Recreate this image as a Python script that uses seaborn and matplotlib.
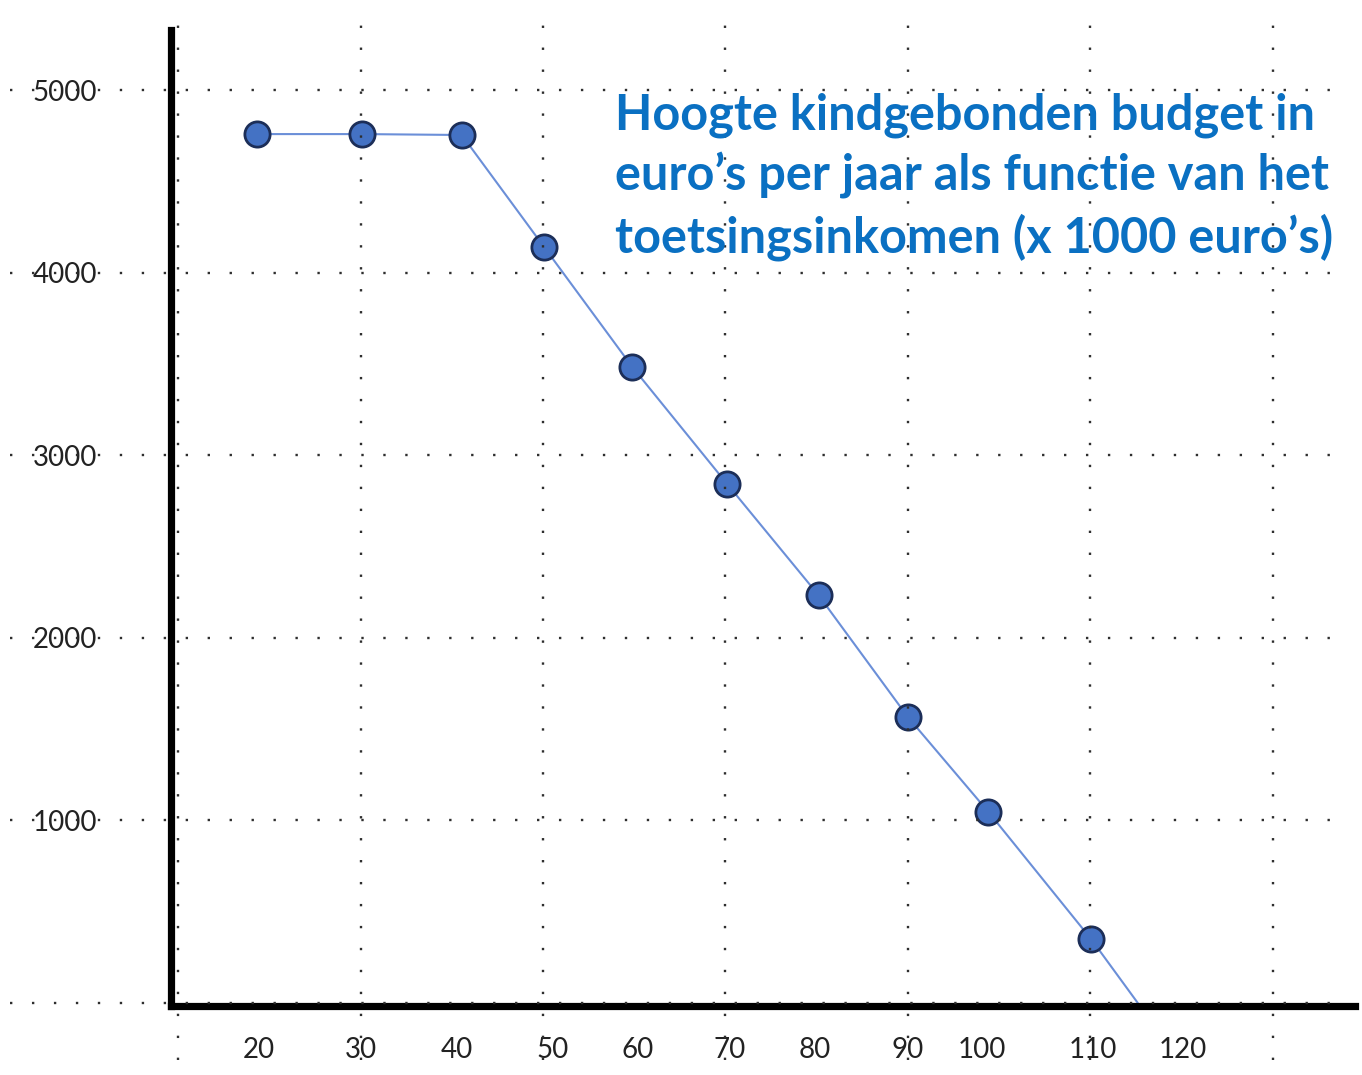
import numpy as np
import pandas as pd
import matplotlib
matplotlib.use("Agg")
import matplotlib.pyplot as plt
import seaborn as sns

# ============ Data ============
# toetsingsinkomen (x 1000 euro) and kindgebonden budget (euro per jaar)
inkomen = [18.7, 30.2, 41.1, 50.1, 59.8, 70.2, 80.2, 90.0, 98.8, 110.1]
budget = [4759, 4759, 4754, 4142, 3483, 2842, 2234, 1566, 1048, 349]
# the line runs on to the x axis
eind_inkomen = 115.2
eind_budget = 0

# labels as they sit under the axis (slightly irregular in the original)
xtick_pos = [18.8, 30.0, 40.6, 51.0, 60.4, 70.5, 79.8, 90.0, 98.1, 110.3, 120.1]
xtick_lab = ["20", "30", "40", "50", "60", "70", "80", "90", "100", "110", "120"]
ytick_pos = [1000, 2000, 3000, 4000, 5000]
ytick_lab = ["1000", "2000", "3000", "4000", "5000"]

grid_x = [10, 30, 50, 70, 90, 110, 130]
grid_y = [0, 1000, 2000, 3000, 4000, 5000]

TITLE = ("Hoogte kindgebonden budget in\n"
         "euro\u2019s per jaar als functie van het\n"
         "toetsingsinkomen (x 1000 euro\u2019s)")

# ============ Style ============
sns.set_style("white")
plt.rcParams['font.family'] = ['Lato', 'DejaVu Sans']

LINE_COL = "#6B8FD8"
DOT_FILL = "#4472C4"
DOT_EDGE = "#1C2E58"
TITLE_COL = "#0A70C2"
GRID_COL = "#2E2E2E"

W, H = 1362, 1075
fig = plt.figure(figsize=(W / 100, H / 100), dpi=100)
ax = fig.add_axes([171 / W, (H - 1006) / H, (1355 - 171) / W, (1006 - 30) / H])

df = pd.DataFrame({"inkomen": inkomen, "budget": budget})
df_line = pd.concat([df, pd.DataFrame({"inkomen": [eind_inkomen], "budget": [eind_budget]})],
                    ignore_index=True)

sns.lineplot(data=df_line, x="inkomen", y="budget", ax=ax, color=LINE_COL,
             linewidth=1.5, zorder=3)
sns.scatterplot(data=df, x="inkomen", y="budget", ax=ax, s=330, color=DOT_FILL,
                edgecolor=DOT_EDGE, linewidth=2.0, zorder=4)

ax.set_xlim(9.23, 139.0)
ax.set_ylim(-16, 5329)

# dotted grid that runs past the axes, as in the original
dots = (0, (1, 8.3))
for gy in grid_y:
    ax.axhline(gy, xmin=-0.136, xmax=0.992, color=GRID_COL, linewidth=1.7,
               linestyle=dots, dash_capstyle="butt", clip_on=False, zorder=6)
for gx in grid_x:
    ax.axvline(gx, ymin=-0.055, ymax=1.015, color=GRID_COL, linewidth=1.7,
               linestyle=dots, dash_capstyle="butt", clip_on=False, zorder=6)

ax.set_xticks(xtick_pos, xtick_lab)
ax.set_yticks(ytick_pos, ytick_lab)
ax.tick_params(axis="x", length=0, pad=22, labelsize=20, labelcolor="#222222")
ax.tick_params(axis="y", length=0, pad=53, labelsize=20, labelcolor="#222222")
ax.set_xlabel("")
ax.set_ylabel("")

for side in ["top", "right"]:
    ax.spines[side].set_visible(False)
for side in ["left", "bottom"]:
    ax.spines[side].set_linewidth(5.2)
    ax.spines[side].set_color("black")
    ax.spines[side].set_zorder(5)
ax.spines["left"].set_capstyle("projecting")

fig.text(615 / W, 1 - 92 / H, TITLE, color=TITLE_COL, fontsize=35,
         fontweight="bold", ha="left", va="top", linespacing=1.37)

fig.savefig("out.png", dpi=100)
